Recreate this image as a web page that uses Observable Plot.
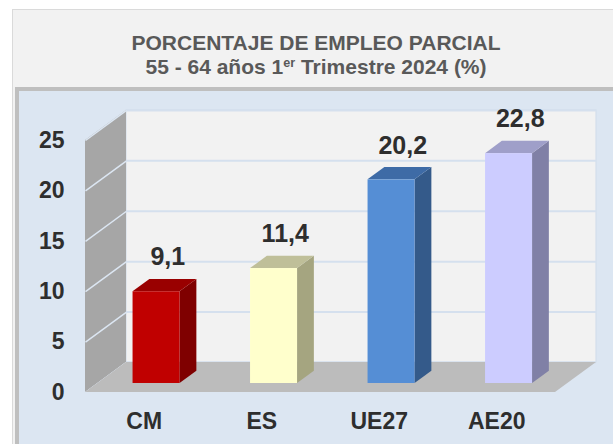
<!DOCTYPE html>
<html>
<head>
<meta charset="utf-8">
<script src="https://cdn.jsdelivr.net/npm/d3@7"></script>
<script src="https://cdn.jsdelivr.net/npm/@observablehq/plot@0.6"></script>
<style>
  html, body { margin: 0; padding: 0; background: #fff; overflow: hidden; }
  #page { position: relative; width: 613px; height: 444px; overflow: hidden; font-family: "Liberation Sans", Arial, sans-serif; }
  #frame { position: absolute; left: 12px; top: 9px; width: 640px; height: 480px; background: #f2f2f2; border-top: 1px solid #dadada; border-left: 1px solid #dadada; }
  #title { position: absolute; left: 12px; width: 608px; top: 31px; text-align: center; color: #595959; font-weight: bold; font-size: 21px; line-height: 24px; }
  #title sup { font-size: 0.6em; line-height: 0; vertical-align: 0.55em; }
  #plotarea { position: absolute; left: 15px; top: 87px; width: 640px; background: #dce6f2; border: 4px solid #bfbfbf; box-sizing: border-box; }
  #chart { position: absolute; left: 0; top: 0; }
</style>
</head>
<body>
<div id="page">
  <div id="frame"></div>
  <div id="title">PORCENTAJE DE EMPLEO PARCIAL<br>55 - 64 años 1<sup>er</sup> Trimestre 2024 (%)</div>
  <div id="plotarea" style="height:361px"></div>
  <div id="chart"></div>
</div>
<script>
// ---- data ----
const categories = ["CM", "ES", "UE27", "AE20"];
const values = [9.1, 11.4, 20.2, 22.8];
const yTicks = [0, 5, 10, 15, 20, 25];
const frontColors = ["#c00000", "#ffffcc", "#558ed5", "#ccccff"];
const sideColors  = ["#7f0000", "#a5a580", "#345a8a", "#8080a6"];
const topColors   = ["#990000", "#bfbf99", "#3e6ba6", "#9f9fc9"];

// ---- 3D projection constants (depth vector in data units) ----
const N = categories.length;
const yMax = yTicks[yTicks.length - 1];
const DX = 0.349;   // depth shift along x (category units)
const DY = 2.98;    // depth shift along y (value units)
const z0 = 0.30, z1 = 0.71; // bar depth span
const HW = 0.2;            // half bar width

const fmt = v => v.toFixed(1).replace(".", ",");
const bars = categories.map((c, i) => ({c, i, v: values[i]}));

const sideRows = bars.flatMap(d => [
  {i: d.i, x: d.i + 0.5 + HW + z0 * DX, ya: z0 * DY, yb: d.v + z0 * DY},
  {i: d.i, x: d.i + 0.5 + HW + z1 * DX, ya: z1 * DY, yb: d.v + z1 * DY}
]);
const topRows = bars.flatMap(d => [
  {i: d.i, y: d.v + z0 * DY, xa: d.i + 0.5 - HW + z0 * DX, xb: d.i + 0.5 + HW + z0 * DX},
  {i: d.i, y: d.v + z1 * DY, xa: d.i + 0.5 - HW + z1 * DX, xb: d.i + 0.5 + HW + z1 * DX}
]);
const floorRows = [
  {y: 0, xa: 0, xb: N},
  {y: DY, xa: DX, xb: N + DX}
];
const wallRows = [
  {x: 0, ya: 0, yb: yMax},
  {x: DX, ya: DY, yb: yMax + DY}
];

const chart = Plot.plot({
  width: 613,
  height: 444,
  marginLeft: 85,
  marginRight: 58,
  marginTop: 140,
  marginBottom: 52,
  x: {domain: [0, N]},
  y: {domain: [0, yMax]},
  color: {type: "identity"},
  style: {background: "transparent", overflow: "visible", fontFamily: "'Liberation Sans', Arial, sans-serif", color: "#2e2e2e"},
  marks: [
    // back wall
    Plot.rect([0], {x1: () => DX, x2: () => N + DX, y1: () => DY, y2: () => yMax + DY, fill: "#f2f2f2", stroke: "#cfdbea", strokeWidth: 1}),
    Plot.ruleY(yTicks, {y: d => d + DY, x1: () => DX, x2: () => N + DX, stroke: "#d5e0ee", strokeWidth: 2}),
    // side wall
    Plot.area(wallRows, {x1: "x", x2: "x", y1: "ya", y2: "yb", fill: "#a6a6a6"}),
    Plot.link(yTicks, {x1: () => 0, y1: d => d, x2: () => DX, y2: d => d + DY, stroke: "#dce6f2", strokeWidth: 1.5}),
    // floor
    Plot.area(floorRows, {x1: "xa", x2: "xb", y1: "y", y2: "y", fill: "#bcbcbc"}),
    // bars
    Plot.area(sideRows, {x1: "x", x2: "x", y1: "ya", y2: "yb", z: "i", fill: d => sideColors[d.i]}),
    Plot.area(topRows, {x1: "xa", x2: "xb", y1: "y", y2: "y", z: "i", fill: d => topColors[d.i]}),
    Plot.rect(bars, {
      x1: d => d.i + 0.5 - HW + z0 * DX,
      x2: d => d.i + 0.5 + HW + z0 * DX,
      y1: () => z0 * DY,
      y2: d => d.v + z0 * DY,
      fill: d => frontColors[d.i]
    }),
    // value labels
    Plot.text(bars, {
      x: d => d.i + 0.5 + 0.2,
      y: d => d.v + z1 * DY,
      text: d => fmt(d.v),
      dy: -14,
      lineAnchor: "bottom",
      fontSize: 25,
      fontWeight: "bold",
      fill: "#2e2e2e"
    }),
    // axes
    Plot.axisY(yTicks, {tickSize: 0, tickPadding: 21, fontSize: 23, fontWeight: "bold", label: null, tickFormat: d => String(d)}),
    Plot.axisX(categories.map((c, i) => i + 0.5), {tickSize: 0, tickPadding: 20, fontSize: 23, fontWeight: "bold", label: null, tickFormat: d => categories[Math.floor(d)]})
  ]
});
document.getElementById("chart").appendChild(chart);
</script>
</body>
</html>
